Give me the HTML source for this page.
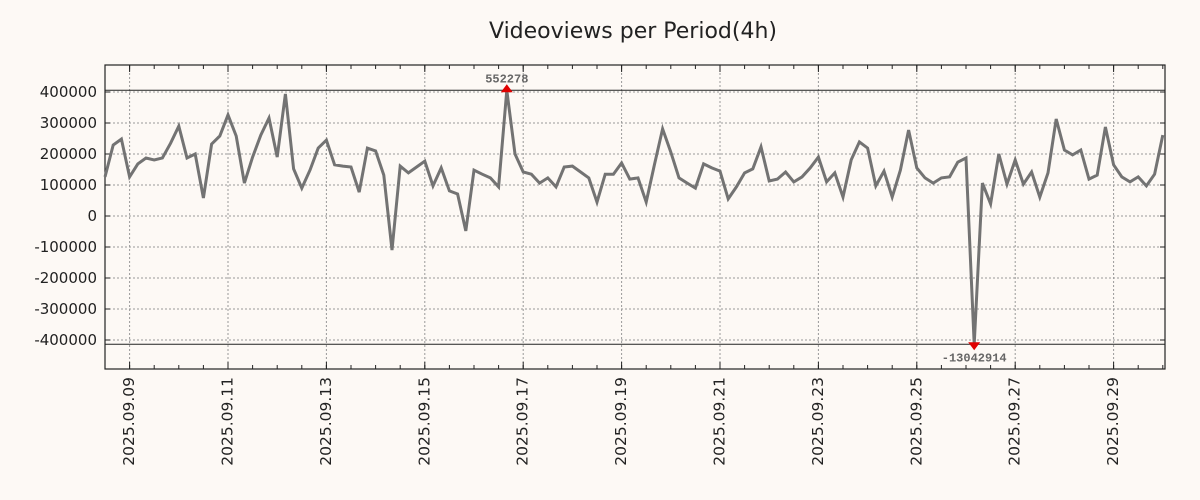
<!DOCTYPE html>
<html><head><meta charset="utf-8"><style>
html,body{margin:0;padding:0;background:#fdf9f5;}
svg{display:block;font-family:"DejaVu Sans","Liberation Sans",sans-serif;}
</style></head><body>
<svg id="chart" width="1200" height="500" viewBox="0 0 1200 500" xmlns="http://www.w3.org/2000/svg">
<rect x="0" y="0" width="1200" height="500" fill="#fdf9f5"/>
<text x="633" y="38" text-anchor="middle" font-size="22" fill="#222">Videoviews per Period(4h)</text>
<g id="grid"></g>
<g id="axes"></g>
<g id="series"></g>
<g id="markers"></g>
</svg>
<script>
// data (values in views, 4h periods starting 2025-09-08 12:00)
const startLabel = "2025-09-08T12:00";
const values = [126000,229000,248000,126000,168000,187000,181000,187000,235000,290000,
187000,200000,58000,232000,258000,326000,258000,106000,190000,261000,
316000,190000,394000,152000,90000,148000,219000,245000,165000,161000,
158000,77000,219000,210000,132000,-110000,161000,139000,158000,177000,
97000,155000,81000,71000,
-48000,148000,135000,123000,94000,552278,200000,142000,135000,106000,
123000,94000,158000,161000,142000,123000,45000,135000,135000,171000,
119000,123000,45000,165000,281000,206000,123000,106000,90000,168000,
155000,145000,55000,94000,139000,152000,223000,113000,119000,142000,
110000,126000,
155000,190000,110000,139000,61000,181000,239000,219000,97000,145000,
61000,148000,277000,155000,123000,106000,123000,126000,174000,187000,
-13042914,106000,39000,200000,103000,181000,103000,142000,61000,139000,
313000,213000,197000,213000,119000,132000,287000,165000,126000,110000,
126000,97000,135000,261000];
const yTicks = [400000,300000,200000,100000,0,-100000,-200000,-300000,-400000];
const xTickLabels = ["2025.09.09","2025.09.11","2025.09.13","2025.09.15","2025.09.17","2025.09.19","2025.09.21","2025.09.23","2025.09.25","2025.09.27","2025.09.29"];
const clipRange = [-413900, 405500];

const L=105,R=1165,T=65,B=369;
const pxPerPeriod=8.2;
function xScale(periodIndex){return L+periodIndex*pxPerPeriod;}
function yScale(v){return 216 - v*0.00031;}
function dateToPeriod(lbl){
  const d=parseInt(lbl.split('.')[2],10);
  return (d-8)*6-3;
}
const NS="http://www.w3.org/2000/svg";
function mk(tag,attrs,parent){const e=document.createElementNS(NS,tag);for(const k in attrs)e.setAttribute(k,attrs[k]);parent.appendChild(e);return e;}
const grid=document.getElementById('grid'),axes=document.getElementById('axes'),series=document.getElementById('series'),markers=document.getElementById('markers');

yTicks.forEach(v=>{
  const y=yScale(v);
  const g=mk('line',{x1:L,x2:R,y1:y,y2:y,stroke:'#999','stroke-width':1,'stroke-dasharray':'2,2'},grid);
  
  
  const t1=mk('line',{x1:L,x2:L+5,y1:y,y2:y,stroke:'#222'},axes);
  
  
  const t2=mk('line',{x1:R-5,x2:R,y1:y,y2:y,stroke:'#222'},axes);
  
  
  const tx=mk('text',{x:L-8,y:y+5,'text-anchor':'end','font-size':15,fill:'#222'},axes);
  tx.textContent=String(v);
  
  
});
for(let p=0;p<=130;p+=3){
  const x=xScale(p); if(x<L||x>R)continue;
  const a=mk('line',{x1:x,x2:x,y1:B,y2:B-4,stroke:'#222'},axes);
  
  
  const b=mk('line',{x1:x,x2:x,y1:T,y2:T+4,stroke:'#222'},axes);
  
  
}
xTickLabels.forEach(lbl=>{
  const x=xScale(dateToPeriod(lbl));
  const g=mk('line',{x1:x,x2:x,y1:T,y2:B,stroke:'#999','stroke-width':1,'stroke-dasharray':'2,2'},grid);
  
  
  const a=mk('line',{x1:x,x2:x,y1:B,y2:B-7,stroke:'#222'},axes);
  
  
  const b=mk('line',{x1:x,x2:x,y1:T,y2:T+7,stroke:'#222'},axes);
  
  
  const t=mk('text',{x:0,y:0,'text-anchor':'end','font-size':15.5,fill:'#222',transform:`translate(${x+4.5},377) rotate(-90)`},axes);
  t.textContent=lbl;
  
  
});
clipRange.forEach(v=>{
  const l=mk('line',{x1:L,x2:R,y1:yScale(v),y2:yScale(v),stroke:'#222','stroke-width':1},axes);
  
  
});
const frame=mk('rect',{x:L,y:T,width:R-L,height:B-T,fill:'none',stroke:'#222','stroke-width':1.2},axes);



const clamp=v=>Math.max(clipRange[0],Math.min(clipRange[1],v));
const pts=values.map((v,i)=>xScale(i).toFixed(1)+','+yScale(clamp(v)).toFixed(1)).join(' ');
const line=mk('polyline',{points:pts,fill:'none',stroke:'#737373','stroke-width':3,'stroke-linejoin':'miter'},series);



let iMax=0,iMin=0;values.forEach((v,i)=>{if(v>values[iMax])iMax=i;if(v<values[iMin])iMin=i;});
[[iMax,true],[iMin,false]].forEach(([i,up])=>{
  const x=xScale(i),y=yScale(clamp(values[i]));
  const tri=up?`${x-6},${y+2} ${x+6},${y+2} ${x},${y-6}`:`${x-6},${y-2} ${x+6},${y-2} ${x},${y+6}`;
  const m=mk('polygon',{points:tri,fill:'#e00000'},markers);
  
  
  const t=mk('text',{x:x,y:up?y-8:y+17,'text-anchor':'middle','font-size':12,'font-weight':'bold','font-family':'"Liberation Mono","DejaVu Sans Mono",monospace',fill:'#666'},markers);
  t.textContent=String(values[i]);
  
  
});
</script>
</body></html>
